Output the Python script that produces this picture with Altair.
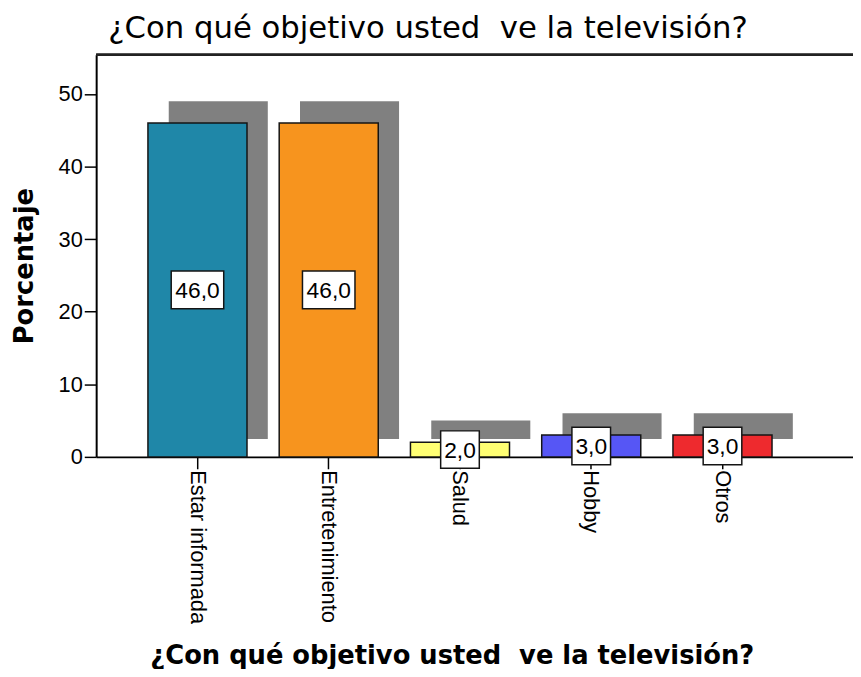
import altair as alt
import pandas as pd

# ---- data ----
categories = ["Estar informada", "Entretenimiento", "Salud", "Hobby", "Otros"]
percentages = [46.0, 46.0, 2.0, 3.0, 3.0]
y_ticks = [0, 10, 20, 30, 40, 50]
title_text = "¿Con qué objetivo usted \u00a0ve la televisión?"
y_title = "Porcentaje"

bar_colors = ["#1f87a8", "#f7941e", "#ffff73", "#5656f5", "#ee2a2e"]

df = pd.DataFrame({"cat": categories, "pct": percentages})

YMAX = 55.4
y_scale = alt.Scale(domain=[0, YMAX], nice=False, zero=True)
x_scale = alt.Scale(paddingInner=0.2453, paddingOuter=0.5057, align=0.39)

x_axis = alt.Axis(
    labelAngle=90, labelFont="Liberation Sans", labelFontSize=22, labelColor="black",
    labelPadding=1, tickSize=12, tickColor="black", tickWidth=1.5,
    domainColor="black", domainWidth=2,
    title=title_text, titleFont="DejaVu Sans", titleFontSize=26, titleFontWeight="bold",
    titleColor="black", titleX=359, titleY=209, titleBaseline="alphabetic", titleAlign="center",
)
y_axis = alt.Axis(
    values=y_ticks, title=y_title, grid=False, tickSize=12, tickColor="black", tickWidth=1.5,
    domainColor="black", domainWidth=2,
    labelFont="Liberation Sans", labelFontSize=22, labelColor="black", labelPadding=2,
    titleFont="DejaVu Sans", titleFontSize=26, titleFontWeight="bold", titleColor="black",
    titleAngle=270, titleX=-72, titleY=213, titleAlign="center", titleBaseline="middle",
)

x_enc = alt.X("cat:N", sort=categories, scale=x_scale, axis=x_axis)

base = alt.Chart(df).transform_calculate(
    label="replace(format(datum.pct, '.1f'), '.', ',')",
    mid="datum.pct / 2",
)

shadow = base.mark_bar(color="#808080", xOffset=21, yOffset=-22, y2Offset=-18).encode(
    x=x_enc,
    y=alt.Y("pct:Q", scale=y_scale, axis=y_axis),
    y2=alt.datum(0),
)

bars = base.mark_bar(stroke="#141414", strokeWidth=1.5).encode(
    x=x_enc,
    y=alt.Y("pct:Q", scale=y_scale, axis=y_axis),
    y2=alt.datum(0),
    color=alt.Color("cat:N", scale=alt.Scale(domain=categories, range=bar_colors), legend=None),
)

top_border = base.mark_rule(color="#222222", strokeWidth=2).encode(y=alt.value(0))

box_wide = base.transform_filter("length(datum.label) > 3").mark_point(
    shape="M-1,-0.72L1,-0.72L1,0.72L-1,0.72Z", size=53 * 53, filled=True,
    fill="white", stroke="#141414", strokeWidth=1.5, opacity=1,
).encode(x=x_enc, y=alt.Y("mid:Q", scale=y_scale, axis=y_axis))

box_narrow = base.transform_filter("length(datum.label) <= 3").mark_point(
    shape="M-1,-0.97L1,-0.97L1,0.97L-1,0.97Z", size=39 * 39, filled=True,
    fill="white", stroke="#141414", strokeWidth=1.5, opacity=1,
).encode(x=x_enc, y=alt.Y("mid:Q", scale=y_scale, axis=y_axis))

labels = base.mark_text(
    font="Liberation Sans", fontSize=23,
    baseline="middle", align="center", color="black", dy=1,
).encode(x=x_enc, y=alt.Y("mid:Q", scale=y_scale, axis=y_axis), text="label:N")

chart = alt.layer(shadow, bars, top_border, box_wide, box_narrow, labels).properties(
    width=764,
    height=406,
    autosize=alt.AutoSizeParams(type="none"),
    padding={"left": 89, "top": 44, "right": 0, "bottom": 211},
    title=alt.TitleParams(
        text=title_text, font="DejaVu Sans", fontSize=31, fontWeight="normal",
        color="black", anchor="middle", dx=-47, dy=28, offset=13, baseline="alphabetic",
    ),
).configure_view(fill="#f0f0f0", stroke=None).configure(background="white")

chart.save("out.html", embed_options={"renderer": "svg", "actions": False})
